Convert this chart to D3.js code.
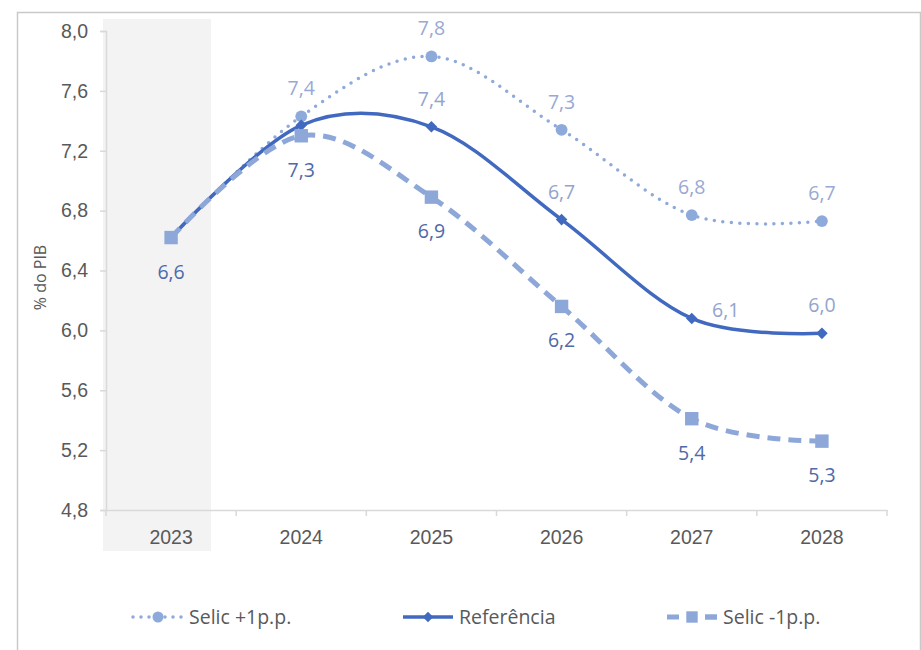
<!DOCTYPE html>
<html>
<head>
<meta charset="utf-8">
<script src="https://cdn.jsdelivr.net/npm/d3@7"></script>
<style>
  html, body { margin: 0; padding: 0; background: #fff; }
  svg { display: block; font-family: "Open Sans", "Noto Sans", sans-serif; }
</style>
</head>
<body>
<svg id="chart" width="921" height="650"></svg>
<script>
// Categories and series (% do PIB)
const years = ["2023", "2024", "2025", "2026", "2027", "2028"];
const selicUp = [6.62, 7.43, 7.83, 7.34, 6.77, 6.73];
const referencia = [6.62, 7.37, 7.36, 6.74, 6.08, 5.98];
const selicDown = [6.62, 7.30, 6.89, 6.16, 5.41, 5.26];
const yTicks = [4.8, 5.2, 5.6, 6.0, 6.4, 6.8, 7.2, 7.6, 8.0];

// Where each series prints its value label
const selicUpPlace = ["none", "above", "above", "above", "above", "above"];
const referenciaPlace = ["none", "none", "above", "above", "right", "above"];
const selicDownPlace = ["below", "below", "below", "below", "below", "below"];

const fmt = v => v.toFixed(1).replace(".", ",");
const FONT = "19.5px";

const svg = d3.select("#chart");
const W = 921, H = 650;
const plot = { left: 106, right: 887, top: 31, bottom: 510 };

const x = d3.scaleBand().domain(years).range([plot.left, plot.right]);
const y = d3.scaleLinear().domain([4.8, 8.0]).range([plot.bottom, plot.top]);
const cx = d => x(d) + x.bandwidth() / 2;

// Outer frame
svg.append("rect")
  .attr("x", 17.5).attr("y", 12.5).attr("width", W - 18).attr("height", H)
  .attr("fill", "#fff").attr("stroke", "#c9c9c9").attr("stroke-width", 1.5);

// Shaded area behind the realised year
svg.append("rect")
  .attr("x", x("2023") - 3)
  .attr("y", y(8.0) - 12)
  .attr("width", x.bandwidth() * 0.83)
  .attr("height", plot.bottom - y(8.0) + 53)
  .attr("fill", "#f4f3f4");

// Y axis
const yAxis = svg.append("g")
  .attr("transform", `translate(${plot.left},0)`)
  .call(d3.axisLeft(y).tickValues(yTicks).tickFormat(fmt).tickSize(6).tickPadding(12));
yAxis.select(".domain").attr("stroke", "#d9d9d9").attr("stroke-width", 1.5);
yAxis.selectAll(".tick line").attr("stroke", "#d9d9d9").attr("stroke-width", 1.5);
yAxis.selectAll(".tick text").attr("fill", "#595959").style("font-size", FONT);

// X axis: labels centred on bands, ticks at band boundaries
const xAxis = svg.append("g")
  .attr("transform", `translate(0,${plot.bottom})`)
  .call(d3.axisBottom(x).tickSize(0).tickPadding(20));
xAxis.select(".domain").attr("stroke", "#d9d9d9").attr("stroke-width", 1.5);
xAxis.selectAll(".tick text").attr("fill", "#595959").style("font-size", FONT);
const bounds = years.map(d => x(d)).concat([x(years[years.length - 1]) + x.bandwidth()]);
xAxis.selectAll(".bound").data(bounds).join("line")
  .attr("class", "bound")
  .attr("x1", d => d).attr("x2", d => d)
  .attr("y1", 0).attr("y2", 6)
  .attr("stroke", "#d9d9d9").attr("stroke-width", 1.5);

// Y axis title
svg.append("text")
  .attr("transform", `translate(46,${(plot.top + plot.bottom) / 2 + 7}) rotate(-90)`)
  .attr("text-anchor", "middle")
  .attr("fill", "#595959")
  .style("font-size", "16px")
  .text("% do PIB");

const line = d3.line()
  .x((d, i) => cx(years[i]))
  .y(d => y(d))
  .curve(d3.curveCardinal.tension(0));

const series = [
  { name: "Selic +1p.p.", values: selicUp, place: selicUpPlace, color: "#8eaadb",
    width: 3.5, dash: "0 8.5", cap: "round", marker: "circle", labelColor: "#99a9d3" },
  { name: "Referência", values: referencia, place: referenciaPlace, color: "#4169c0",
    width: 3.5, dash: null, cap: "butt", marker: "diamond", labelColor: "#93a4cf" },
  { name: "Selic -1p.p.", values: selicDown, place: selicDownPlace, color: "#8ea7d9",
    width: 5, dash: "13 8", cap: "butt", marker: "square", labelColor: "#4f69ab" }
];

const symbolFor = m => m === "circle" ? d3.symbol(d3.symbolCircle, 110)
  : m === "square" ? d3.symbol(d3.symbolSquare, 180)
  : d3.symbol(d3.symbolDiamond2, 85);

series.forEach(s => {
  const g = svg.append("g");
  g.append("path")
    .datum(s.values)
    .attr("d", line)
    .attr("fill", "none")
    .attr("stroke", s.color)
    .attr("stroke-width", s.width)
    .attr("stroke-linecap", s.cap)
    .attr("stroke-dasharray", s.dash);
  g.selectAll(".mk").data(s.values).join("path")
    .attr("class", "mk")
    .attr("d", symbolFor(s.marker))
    .attr("transform", (d, i) => `translate(${cx(years[i])},${y(d)})`)
    .attr("fill", s.color);
});

// Value labels
series.forEach(s => {
  svg.append("g").selectAll("text")
    .data(s.values.map((v, i) => ({ v, i, p: s.place[i] })).filter(d => d.p !== "none"))
    .join("text")
    .attr("x", d => cx(years[d.i]) + (d.p === "right" ? 34 : 0))
    .attr("y", d => y(d.v) + (d.p === "above" ? -21 : d.p === "below" ? 41 : -1))
    .attr("text-anchor", "middle")
    .attr("fill", s.labelColor)
    .style("font-size", FONT)
    .text(d => fmt(d.v));
});

// Legend
const legendX = [133, 403, 667];
const legendY = 617;
series.forEach((s, k) => {
  const g = svg.append("g").attr("transform", `translate(${legendX[k]},${legendY})`);
  g.append("line")
    .attr("x1", 0).attr("x2", 50).attr("y1", 0).attr("y2", 0)
    .attr("stroke", s.color)
    .attr("stroke-width", s.width)
    .attr("stroke-linecap", s.cap)
    .attr("stroke-dasharray", s.marker === "circle" ? "0 8" : s.marker === "square" ? "12 26" : null);
  if (s.marker === "square") {
    g.append("line").attr("x1", 38).attr("x2", 50).attr("y1", 0).attr("y2", 0)
      .attr("stroke", s.color).attr("stroke-width", s.width);
  }
  g.append("path")
    .attr("d", symbolFor(s.marker).size(s.marker === "square" ? 130 : s.marker === "circle" ? 95 : 70)())
    .attr("transform", "translate(25,0)")
    .attr("fill", s.color);
  g.append("text")
    .attr("x", 56).attr("y", 7)
    .attr("fill", "#595959")
    .style("font-size", FONT)
    .text(s.name);
});
</script>
</body>
</html>
